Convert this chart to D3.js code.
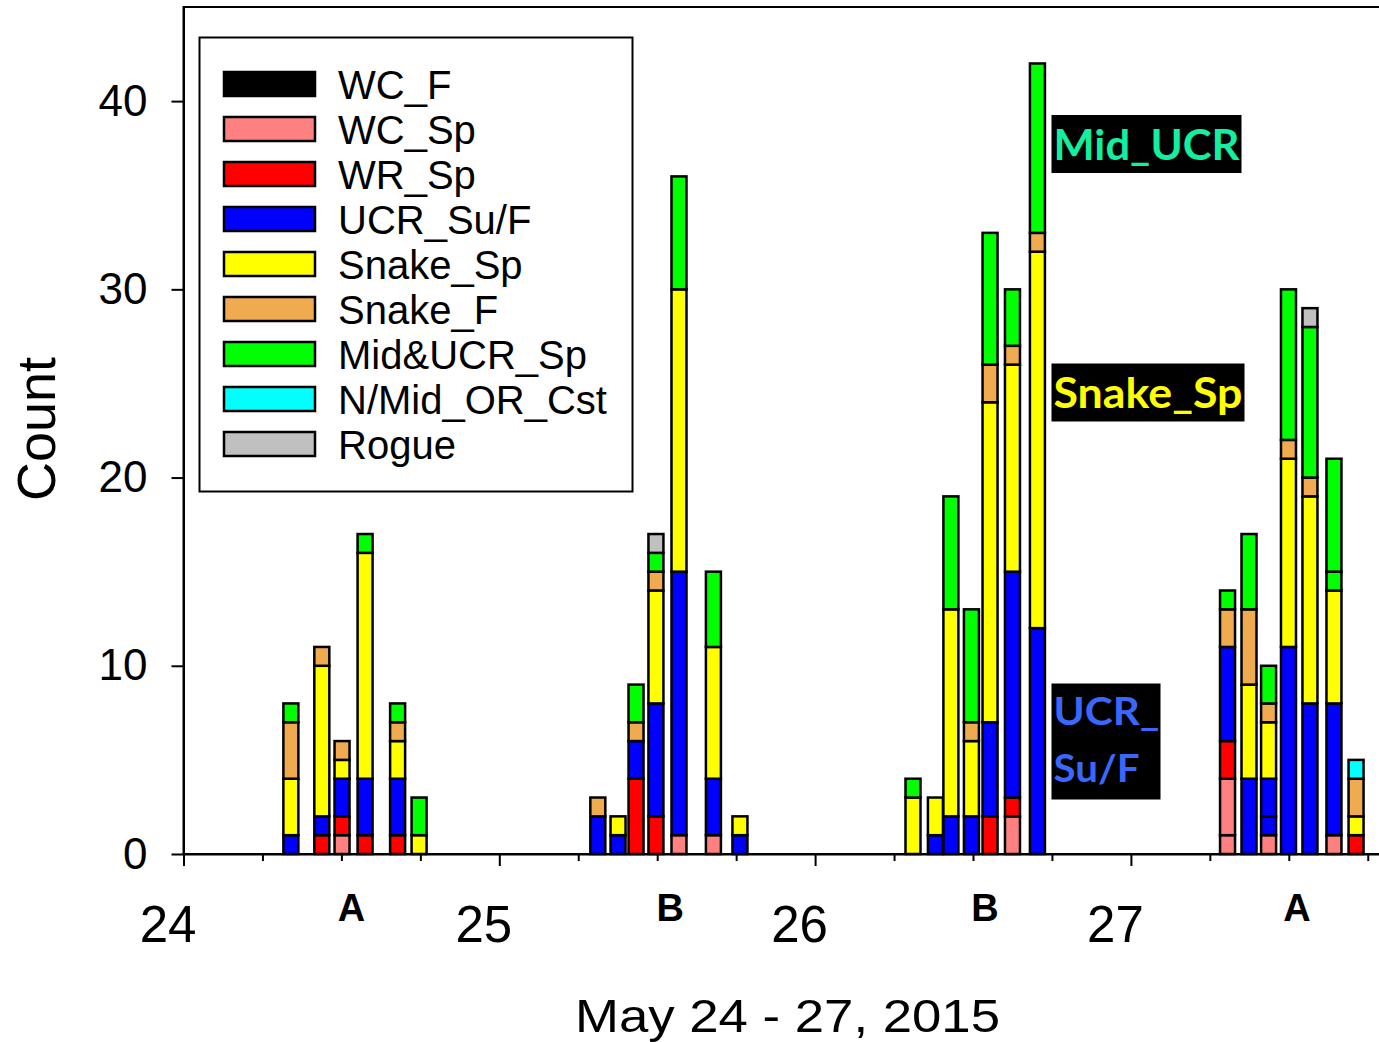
<!DOCTYPE html>
<html><head><meta charset="utf-8">
<script src="https://cdn.jsdelivr.net/npm/d3@7"></script>
<style>
body{margin:0;background:#fff}
svg{display:block;background:#fff}
</style>
</head><body>
<svg id="chart" width="1379" height="1042" font-family="'Liberation Sans',Arial,sans-serif"></svg>
<script>
// ---- data (bar times in decimal days of May 2015) ----
const times = [24.340,24.438,24.502,24.575,24.678,24.746,
               25.312,25.376,25.433,25.496,25.569,25.678,25.762,
               26.310,26.381,26.430,26.495,26.554,26.625,26.704,
               27.306,27.374,27.436,27.499,27.567,27.643,27.713];
const WC_F        = [0,0,0,0,0,0, 0,0,0,0,0,0,0, 0,0,0,0,0,0,0, 0,0,0,0,0,0,0];
const WC_Sp       = [0,0,1,0,0,0, 0,0,0,0,1,1,0, 0,0,0,0,0,2,0, 1,0,1,0,0,1,0];
const WC_Sp_b     = [0,0,0,0,0,0, 0,0,0,0,0,0,0, 0,0,0,0,0,0,0, 3,0,0,0,0,0,0];
const WR_Sp       = [0,1,1,1,1,0, 0,0,4,2,0,0,0, 0,0,0,0,2,1,0, 2,0,0,0,0,0,1];
const UCR_SuF     = [1,1,2,3,3,0, 2,1,2,6,14,3,1, 0,1,2,2,5,12,12, 5,4,1,11,8,7,0];
const UCR_SuF_b   = [0,0,0,0,0,0, 0,0,0,0,0,0,0, 0,0,0,0,0,0,0, 0,0,2,0,0,0,0];
const Snake_Sp    = [3,8,1,12,2,1, 0,1,0,6,15,7,1, 3,2,11,4,17,11,20, 0,5,3,10,11,6,1];
const Snake_F     = [3,1,1,0,1,0, 1,0,1,1,0,0,0, 0,0,0,1,2,1,1, 2,4,1,1,1,0,2];
const MidUCR_Sp   = [1,0,0,1,1,2, 0,0,2,1,6,4,0, 1,0,6,6,7,3,9, 1,4,2,8,8,1,0];
const MidUCR_Sp_b = [0,0,0,0,0,0, 0,0,0,0,0,0,0, 0,0,0,0,0,0,0, 0,0,0,0,0,6,0];
const NMid_OR_Cst = [0,0,0,0,0,0, 0,0,0,0,0,0,0, 0,0,0,0,0,0,0, 0,0,0,0,0,0,1];
const Rogue       = [0,0,0,0,0,0, 0,0,0,1,0,0,0, 0,0,0,0,0,0,0, 0,0,0,0,1,0,0];

const seriesKeys   = ["WC_F","WC_Sp","WC_Sp_b","WR_Sp","UCR_Su/F","UCR_Su/F_b","Snake_Sp","Snake_F","Mid&UCR_Sp","Mid&UCR_Sp_b","N/Mid_OR_Cst","Rogue"];
const seriesValues = [WC_F,WC_Sp,WC_Sp_b,WR_Sp,UCR_SuF,UCR_SuF_b,Snake_Sp,Snake_F,MidUCR_Sp,MidUCR_Sp_b,NMid_OR_Cst,Rogue];
const seriesColors = ["#000000","#ff8080","#ff8080","#ff0000","#0000ff","#0000ff","#ffff00","#f0aa50","#00ff00","#00ff00","#00ffff","#c0c0c0"];
const legendKeys   = ["WC_F","WC_Sp","WR_Sp","UCR_Su/F","Snake_Sp","Snake_F","Mid&UCR_Sp","N/Mid_OR_Cst","Rogue"];

const xTickValues = [24,25,26,27];
const yTickValues = [0,10,20,30,40];
const groupLabels = ["A","B","B","A"];
const groupLabelTimes = [24.532,25.541,26.538,27.526];
const annotations = [
  {lines:["Mid_UCR"], color:"#10f0a0"},
  {lines:["Snake_Sp"], color:"#ffff00"},
  {lines:["UCR_","Su/F"], color:"#3a68ff"}
];

// ---- build ----
const FONT = "'Liberation Sans',Arial,sans-serif";
const colorOf = {}; seriesKeys.forEach((k,i)=>colorOf[k]=seriesColors[i]);
const table = times.map((t,i)=>{const r={t}; seriesKeys.forEach((k,j)=>r[k]=seriesValues[j][i]); return r;});

const svg = d3.select("#chart");
const x = d3.scaleLinear().domain([24,28]).range([183.5,1446.7]);
const y = d3.scaleLinear().domain([0,45]).range([854,7]);

// frame (top and right borders)
svg.append("rect").attr("x",x(24)).attr("y",y(45)).attr("width",x(28)-x(24)).attr("height",y(0)-y(45))
  .attr("fill","none").attr("stroke","#000").attr("stroke-width",2);

// stacked bars
const stack = d3.stack().keys(seriesKeys);
const layers = stack(table);
const barW = 15;
const gBars = svg.append("g");
layers.forEach(layer=>{
  gBars.append("g").selectAll("rect")
    .data(layer.filter(d=>d[1]-d[0]>0))
    .join("rect")
    .attr("x",d=>x(d.data.t)-barW/2)
    .attr("width",barW)
    .attr("y",d=>y(d[1]))
    .attr("height",d=>y(d[0])-y(d[1]))
    .attr("fill",colorOf[layer.key])
    .attr("stroke","#000").attr("stroke-width",2.5);
});

// x axis: minor ticks
const minorVals = d3.range(24,28,0.25).filter(v=>!xTickValues.includes(v));
svg.append("g").attr("transform",`translate(0,${y(0)})`)
  .call(d3.axisBottom(x).tickValues(minorVals).tickSize(7).tickFormat(""))
  .call(g=>g.select(".domain").remove())
  .call(g=>g.selectAll("line").attr("stroke-width",2));
const xAxis = svg.append("g").attr("transform",`translate(0,${y(0)})`)
  .call(d3.axisBottom(x).tickValues(xTickValues).tickSize(12).tickSizeOuter(0).tickFormat(d3.format("d")));
xAxis.attr("font-family",FONT);
xAxis.select(".domain").attr("stroke-width",2);
xAxis.selectAll("line").attr("stroke-width",2);
xAxis.selectAll("text").attr("font-size",51).attr("y",52).attr("dx",-16).attr("fill","#000");

// y axis
const yAxis = svg.append("g").attr("transform",`translate(${x(24)},0)`)
  .call(d3.axisLeft(y).tickValues(yTickValues).tickSize(12).tickSizeOuter(0).tickPadding(24));
yAxis.attr("font-family",FONT);
yAxis.select(".domain").attr("stroke-width",2);
yAxis.selectAll("line").attr("stroke-width",2);
yAxis.selectAll("text").attr("font-size",44).attr("fill","#000");

// group labels
svg.append("g").selectAll("text").data(groupLabels).join("text")
  .attr("x",(d,i)=>x(groupLabelTimes[i])).attr("y",921)
  .attr("text-anchor","middle").attr("font-weight","bold").attr("font-size",38).text(d=>d);

// axis titles
svg.append("text").attr("transform","translate(55,429) rotate(-90)")
  .attr("text-anchor","middle").attr("font-size",54).text("Count");
svg.append("text").attr("x",787.5).attr("y",1032).attr("text-anchor","middle")
  .attr("font-size",46).attr("textLength",425).attr("lengthAdjust","spacingAndGlyphs").text("May 24 - 27, 2015");

// legend
const lg = svg.append("g");
lg.append("rect").attr("x",199.5).attr("y",37.5).attr("width",433).attr("height",454)
  .attr("fill","#fff").attr("stroke","#000").attr("stroke-width",2);
legendKeys.forEach((k,i)=>{
  lg.append("rect").attr("x",224).attr("y",72+i*45).attr("width",91).attr("height",24)
    .attr("fill",colorOf[k]).attr("stroke","#000").attr("stroke-width",2.5);
  lg.append("text").attr("x",338).attr("y",98.5+i*45).attr("font-size",40).text(k);
});

// annotation boxes
const annBoxes = [
  {x:1051.5,y:115,w:190,h:58, lineY:[160], size:42, len:[186]},
  {x:1051.5,y:363.5,w:193,h:58, lineY:[408], size:42, len:[189]},
  {x:1051.5,y:683.5,w:109,h:116, lineY:[725,782], size:38, len:[106,86]}
];
annotations.forEach((a,i)=>{
  const b = annBoxes[i];
  svg.append("rect").attr("x",b.x).attr("y",b.y).attr("width",b.w).attr("height",b.h).attr("fill","#000");
  a.lines.forEach((ln,j)=>{
    svg.append("text").attr("x",b.x+2).attr("y",b.lineY[j])
      .attr("font-family","Lato,'Open Sans',sans-serif").attr("font-weight","bold")
      .attr("font-size",b.size).attr("fill",a.color)
      .attr("textLength",b.len[j]).attr("lengthAdjust","spacingAndGlyphs").text(ln);
  });
});
</script>
</body></html>
